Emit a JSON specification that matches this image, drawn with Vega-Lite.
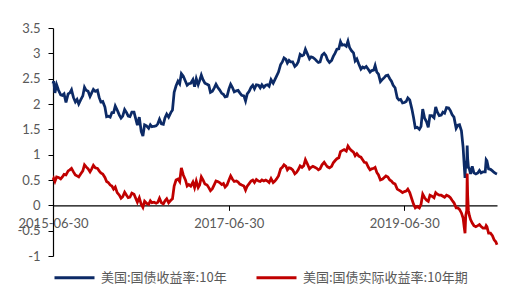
{
 "$schema": "https://vega.github.io/schema/vega-lite/v6.json",
 "width": 444, "height": 228,
 "autosize": {"type": "none"},
 "padding": {"left": 53, "top": 28, "right": 24, "bottom": 39},
 "background": "white",
 "config": {"view": {"stroke": null}, "axis": {"grid": false, "labelFont": "Lato", "labelFontSize": 13, "labelColor": "#595959", "domainColor": "#000000", "tickColor": "#000000", "title": null}},
 "data": {"values": [
{"d":"2015-06-30","n":2.40,"r":0.50},{"d":"2015-07-03","n":2.45,"r":0.53},{"d":"2015-07-08","n":2.22,"r":0.47},{"d":"2015-07-15","n":2.38,"r":0.56},{"d":"2015-07-23","n":2.27,"r":0.55},
{"d":"2015-08-01","n":2.18,"r":0.52},{"d":"2015-08-08","n":2.17,"r":0.56},{"d":"2015-08-15","n":2.20,"r":0.61},{"d":"2015-08-23","n":2.03,"r":0.60},
{"d":"2015-09-01","n":2.20,"r":0.68},{"d":"2015-09-08","n":2.22,"r":0.70},{"d":"2015-09-15","n":2.28,"r":0.73},{"d":"2015-09-23","n":2.13,"r":0.66},
{"d":"2015-10-01","n":2.04,"r":0.60},{"d":"2015-10-08","n":2.09,"r":0.58},{"d":"2015-10-15","n":2.00,"r":0.56},{"d":"2015-10-23","n":2.08,"r":0.62},
{"d":"2015-11-01","n":2.16,"r":0.68},{"d":"2015-11-08","n":2.33,"r":0.80},{"d":"2015-11-15","n":2.27,"r":0.76},{"d":"2015-11-23","n":2.25,"r":0.72},
{"d":"2015-12-01","n":2.15,"r":0.66},{"d":"2015-12-08","n":2.22,"r":0.72},{"d":"2015-12-15","n":2.29,"r":0.79},{"d":"2015-12-23","n":2.25,"r":0.74},
{"d":"2016-01-01","n":2.27,"r":0.73},{"d":"2016-01-08","n":2.13,"r":0.68},{"d":"2016-01-15","n":2.04,"r":0.64},{"d":"2016-01-23","n":2.05,"r":0.62},
{"d":"2016-02-01","n":1.94,"r":0.55},{"d":"2016-02-08","n":1.75,"r":0.47},{"d":"2016-02-15","n":1.76,"r":0.45},{"d":"2016-02-23","n":1.74,"r":0.40},
{"d":"2016-03-01","n":1.83,"r":0.38},{"d":"2016-03-08","n":1.83,"r":0.32},{"d":"2016-03-15","n":1.96,"r":0.36},{"d":"2016-03-23","n":1.88,"r":0.25},
{"d":"2016-04-01","n":1.78,"r":0.20},{"d":"2016-04-08","n":1.72,"r":0.14},{"d":"2016-04-15","n":1.76,"r":0.17},{"d":"2016-04-23","n":1.89,"r":0.26},
{"d":"2016-05-01","n":1.83,"r":0.20},{"d":"2016-05-08","n":1.76,"r":0.15},{"d":"2016-05-15","n":1.75,"r":0.16},{"d":"2016-05-23","n":1.84,"r":0.24},
{"d":"2016-06-01","n":1.84,"r":0.22},{"d":"2016-06-08","n":1.71,"r":0.14},{"d":"2016-06-15","n":1.58,"r":0.06},{"d":"2016-06-23","n":1.74,"r":0.15},
{"d":"2016-07-01","n":1.46,"r":0.02},{"d":"2016-07-08","n":1.37,"r":-0.04},{"d":"2016-07-15","n":1.59,"r":0.08},{"d":"2016-07-23","n":1.57,"r":0.04},
{"d":"2016-08-01","n":1.52,"r":0.02},{"d":"2016-08-08","n":1.59,"r":0.09},{"d":"2016-08-15","n":1.55,"r":0.05},{"d":"2016-08-23","n":1.56,"r":0.06},
{"d":"2016-09-01","n":1.57,"r":0.04},{"d":"2016-09-08","n":1.61,"r":0.06},{"d":"2016-09-15","n":1.70,"r":0.14},{"d":"2016-09-23","n":1.61,"r":0.05},
{"d":"2016-10-01","n":1.60,"r":0.03},{"d":"2016-10-08","n":1.73,"r":0.09},{"d":"2016-10-15","n":1.80,"r":0.13},{"d":"2016-10-23","n":1.74,"r":0.05},
{"d":"2016-11-01","n":1.83,"r":0.10},{"d":"2016-11-08","n":1.88,"r":0.13},{"d":"2016-11-15","n":2.23,"r":0.38},{"d":"2016-11-23","n":2.36,"r":0.50},
{"d":"2016-12-01","n":2.45,"r":0.52},{"d":"2016-12-08","n":2.40,"r":0.47},{"d":"2016-12-15","n":2.60,"r":0.74},{"d":"2016-12-23","n":2.55,"r":0.60},
{"d":"2017-01-01","n":2.45,"r":0.50},{"d":"2017-01-08","n":2.37,"r":0.38},{"d":"2017-01-15","n":2.40,"r":0.41},{"d":"2017-01-23","n":2.41,"r":0.38},
{"d":"2017-02-01","n":2.48,"r":0.46},{"d":"2017-02-08","n":2.34,"r":0.35},{"d":"2017-02-15","n":2.50,"r":0.48},{"d":"2017-02-23","n":2.38,"r":0.35},
{"d":"2017-03-01","n":2.46,"r":0.40},{"d":"2017-03-08","n":2.57,"r":0.56},{"d":"2017-03-15","n":2.48,"r":0.50},{"d":"2017-03-23","n":2.41,"r":0.42},
{"d":"2017-04-01","n":2.39,"r":0.40},{"d":"2017-04-08","n":2.37,"r":0.35},{"d":"2017-04-15","n":2.23,"r":0.29},{"d":"2017-04-23","n":2.25,"r":0.33},
{"d":"2017-05-01","n":2.32,"r":0.41},{"d":"2017-05-08","n":2.39,"r":0.48},{"d":"2017-05-15","n":2.33,"r":0.47},{"d":"2017-05-23","n":2.28,"r":0.45},
{"d":"2017-06-01","n":2.21,"r":0.41},{"d":"2017-06-08","n":2.19,"r":0.43},{"d":"2017-06-15","n":2.14,"r":0.36},{"d":"2017-06-23","n":2.15,"r":0.40},
{"d":"2017-07-01","n":2.30,"r":0.50},{"d":"2017-07-08","n":2.39,"r":0.58},{"d":"2017-07-15","n":2.33,"r":0.52},{"d":"2017-07-23","n":2.24,"r":0.47},
{"d":"2017-08-01","n":2.26,"r":0.48},{"d":"2017-08-08","n":2.27,"r":0.46},{"d":"2017-08-15","n":2.22,"r":0.42},{"d":"2017-08-23","n":2.17,"r":0.40},
{"d":"2017-09-01","n":2.16,"r":0.38},{"d":"2017-09-08","n":2.06,"r":0.30},{"d":"2017-09-15","n":2.20,"r":0.38},{"d":"2017-09-23","n":2.25,"r":0.43},
{"d":"2017-10-01","n":2.33,"r":0.48},{"d":"2017-10-08","n":2.37,"r":0.50},{"d":"2017-10-15","n":2.30,"r":0.45},{"d":"2017-10-23","n":2.38,"r":0.51},
{"d":"2017-11-01","n":2.37,"r":0.48},{"d":"2017-11-08","n":2.32,"r":0.47},{"d":"2017-11-15","n":2.38,"r":0.50},{"d":"2017-11-23","n":2.33,"r":0.48},
{"d":"2017-12-01","n":2.37,"r":0.50},{"d":"2017-12-08","n":2.38,"r":0.48},{"d":"2017-12-15","n":2.35,"r":0.45},{"d":"2017-12-23","n":2.48,"r":0.53},
{"d":"2018-01-01","n":2.41,"r":0.45},{"d":"2018-01-08","n":2.48,"r":0.48},{"d":"2018-01-15","n":2.55,"r":0.52},{"d":"2018-01-23","n":2.63,"r":0.58},
{"d":"2018-02-01","n":2.78,"r":0.72},{"d":"2018-02-08","n":2.83,"r":0.75},{"d":"2018-02-15","n":2.91,"r":0.80},{"d":"2018-02-23","n":2.88,"r":0.77},
{"d":"2018-03-01","n":2.81,"r":0.70},{"d":"2018-03-08","n":2.86,"r":0.74},{"d":"2018-03-15","n":2.83,"r":0.73},{"d":"2018-03-23","n":2.83,"r":0.70},
{"d":"2018-04-01","n":2.74,"r":0.62},{"d":"2018-04-08","n":2.77,"r":0.65},{"d":"2018-04-15","n":2.83,"r":0.70},{"d":"2018-04-23","n":2.98,"r":0.78},
{"d":"2018-05-01","n":2.95,"r":0.75},{"d":"2018-05-08","n":2.97,"r":0.78},{"d":"2018-05-15","n":3.08,"r":0.90},{"d":"2018-05-23","n":2.99,"r":0.82},
{"d":"2018-06-01","n":2.89,"r":0.72},{"d":"2018-06-08","n":2.93,"r":0.75},{"d":"2018-06-15","n":2.92,"r":0.77},{"d":"2018-06-23","n":2.89,"r":0.75},
{"d":"2018-07-01","n":2.85,"r":0.73},{"d":"2018-07-08","n":2.82,"r":0.70},{"d":"2018-07-15","n":2.83,"r":0.72},{"d":"2018-07-23","n":2.96,"r":0.80},
{"d":"2018-08-01","n":3.00,"r":0.85},{"d":"2018-08-08","n":2.96,"r":0.80},{"d":"2018-08-15","n":2.87,"r":0.76},{"d":"2018-08-23","n":2.82,"r":0.74},
{"d":"2018-09-01","n":2.86,"r":0.77},{"d":"2018-09-08","n":2.94,"r":0.84},{"d":"2018-09-15","n":3.00,"r":0.88},{"d":"2018-09-23","n":3.08,"r":0.92},
{"d":"2018-10-01","n":3.09,"r":0.94},{"d":"2018-10-08","n":3.23,"r":1.06},{"d":"2018-10-15","n":3.16,"r":1.08},{"d":"2018-10-23","n":3.17,"r":1.10},
{"d":"2018-11-01","n":3.14,"r":1.07},{"d":"2018-11-08","n":3.24,"r":1.17},{"d":"2018-11-15","n":3.11,"r":1.12},{"d":"2018-11-23","n":3.05,"r":1.08},
{"d":"2018-12-01","n":3.01,"r":1.05},{"d":"2018-12-08","n":2.85,"r":0.98},{"d":"2018-12-15","n":2.89,"r":1.02},{"d":"2018-12-23","n":2.79,"r":0.97},
{"d":"2019-01-01","n":2.69,"r":0.95},{"d":"2019-01-08","n":2.73,"r":0.90},{"d":"2019-01-15","n":2.71,"r":0.85},{"d":"2019-01-23","n":2.74,"r":0.84},
{"d":"2019-02-01","n":2.68,"r":0.75},{"d":"2019-02-08","n":2.63,"r":0.70},{"d":"2019-02-15","n":2.66,"r":0.72},{"d":"2019-02-23","n":2.67,"r":0.73},
{"d":"2019-03-01","n":2.76,"r":0.75},{"d":"2019-03-08","n":2.63,"r":0.65},{"d":"2019-03-15","n":2.59,"r":0.60},{"d":"2019-03-23","n":2.44,"r":0.50},
{"d":"2019-04-01","n":2.49,"r":0.52},{"d":"2019-04-08","n":2.52,"r":0.55},{"d":"2019-04-15","n":2.56,"r":0.58},{"d":"2019-04-23","n":2.57,"r":0.56},
{"d":"2019-05-01","n":2.50,"r":0.50},{"d":"2019-05-08","n":2.45,"r":0.48},{"d":"2019-05-15","n":2.37,"r":0.44},{"d":"2019-05-23","n":2.32,"r":0.42},
{"d":"2019-06-01","n":2.12,"r":0.32},{"d":"2019-06-08","n":2.08,"r":0.30},{"d":"2019-06-15","n":2.09,"r":0.28},{"d":"2019-06-23","n":2.02,"r":0.25},
{"d":"2019-07-01","n":2.03,"r":0.27},{"d":"2019-07-08","n":2.05,"r":0.28},{"d":"2019-07-15","n":2.12,"r":0.32},{"d":"2019-07-23","n":2.08,"r":0.25},
{"d":"2019-08-01","n":1.90,"r":0.12},{"d":"2019-08-08","n":1.73,"r":0.02},{"d":"2019-08-15","n":1.53,"r":-0.05},{"d":"2019-08-23","n":1.54,"r":-0.02},
{"d":"2019-09-01","n":1.50,"r":-0.05},{"d":"2019-09-08","n":1.56,"r":0.02},{"d":"2019-09-15","n":1.90,"r":0.22},{"d":"2019-09-23","n":1.72,"r":0.15},
{"d":"2019-10-01","n":1.65,"r":0.10},{"d":"2019-10-08","n":1.54,"r":0.08},{"d":"2019-10-15","n":1.77,"r":0.20},{"d":"2019-10-23","n":1.77,"r":0.18},
{"d":"2019-11-01","n":1.73,"r":0.15},{"d":"2019-11-08","n":1.94,"r":0.25},{"d":"2019-11-15","n":1.84,"r":0.22},{"d":"2019-11-23","n":1.77,"r":0.20},
{"d":"2019-12-01","n":1.78,"r":0.20},{"d":"2019-12-08","n":1.84,"r":0.18},{"d":"2019-12-15","n":1.82,"r":0.16},{"d":"2019-12-23","n":1.93,"r":0.20},
{"d":"2020-01-01","n":1.92,"r":0.18},{"d":"2020-01-08","n":1.87,"r":0.15},{"d":"2020-01-15","n":1.79,"r":0.10},{"d":"2020-01-23","n":1.74,"r":0.05},
{"d":"2020-02-01","n":1.52,"r":-0.05},{"d":"2020-02-08","n":1.58,"r":-0.05},{"d":"2020-02-15","n":1.59,"r":-0.08},{"d":"2020-02-23","n":1.47,"r":-0.15},
{"d":"2020-03-01","n":1.15,"r":-0.25},{"d":"2020-03-06","n":0.76,"r":-0.45},{"d":"2020-03-09","n":0.54,"r":-0.55},{"d":"2020-03-12","n":0.88,"r":-0.20},
{"d":"2020-03-16","n":0.73,"r":-0.10},{"d":"2020-03-18","n":1.18,"r":0.63},{"d":"2020-03-20","n":0.92,"r":0.20},{"d":"2020-03-23","n":0.76,"r":-0.10},
{"d":"2020-03-27","n":0.72,"r":-0.20},{"d":"2020-04-01","n":0.62,"r":-0.28},{"d":"2020-04-08","n":0.77,"r":-0.35},{"d":"2020-04-15","n":0.64,"r":-0.40},
{"d":"2020-04-23","n":0.62,"r":-0.42},{"d":"2020-05-01","n":0.64,"r":-0.40},{"d":"2020-05-08","n":0.69,"r":-0.38},{"d":"2020-05-15","n":0.64,"r":-0.42},
{"d":"2020-05-23","n":0.66,"r":-0.45},{"d":"2020-06-01","n":0.66,"r":-0.45},{"d":"2020-06-05","n":0.90,"r":-0.40},{"d":"2020-06-08","n":0.88,"r":-0.42},
{"d":"2020-06-15","n":0.72,"r":-0.55},{"d":"2020-06-23","n":0.71,"r":-0.55},{"d":"2020-07-01","n":0.68,"r":-0.60},{"d":"2020-07-08","n":0.65,"r":-0.68},
{"d":"2020-07-15","n":0.63,"r":-0.72},{"d":"2020-07-20","n":0.62,"r":-0.78}
 ]},
 "transform": [{"fold": ["n", "r"], "as": ["k", "v"]}],
 "mark": {"type": "line", "strokeWidth": 2.75},
 "encoding": {
  "x": {"field": "d", "type": "temporal",
   "scale": {"type": "utc", "domain": [{"year": 2015, "month": 6, "date": 30, "utc": true}, {"year": 2020, "month": 7, "date": 20, "utc": true}]},
   "axis": {"values": [{"year": 2015, "month": 6, "date": 30, "utc": true}, {"year": 2017, "month": 6, "date": 30, "utc": true}, {"year": 2019, "month": 6, "date": 30, "utc": true}],
    "format": "%Y-%m-%d", "offset": -50.67, "tickSize": 5, "labelPadding": 7, "domainWidth": 1.2, "labelOverlap": false, "labelBound": false, "labelFlush": false, "zindex": 0}},
  "y": {"field": "v", "type": "quantitative",
   "scale": {"domain": [-1, 3.5], "nice": false, "zero": false},
   "axis": {"values": [-1, -0.5, 0, 0.5, 1, 1.5, 2, 2.5, 3, 3.5], "labelExpr": "toString(datum.value)", "tickSize": 5, "labelPadding": 8, "domainWidth": 1.2}},
  "color": {"field": "k", "type": "nominal",
   "scale": {"domain": ["n", "r"], "range": ["#0c2a66", "#c00000"]},
   "legend": {"orient": "none", "legendX": 0, "legendY": 228, "direction": "horizontal", "title": null,
    "symbolType": "stroke", "symbolSize": 1600, "symbolStrokeWidth": 3,
    "labelFont": "Noto Sans CJK SC", "labelFontSize": 13, "labelColor": "#595959", "labelOffset": 5, "columnPadding": 23, "labelLimit": 300,
    "labelExpr": "datum.value == 'n' ? '美国:国债收益率:10年' : '美国:国债实际收益率:10年期'"}}
 }
}
